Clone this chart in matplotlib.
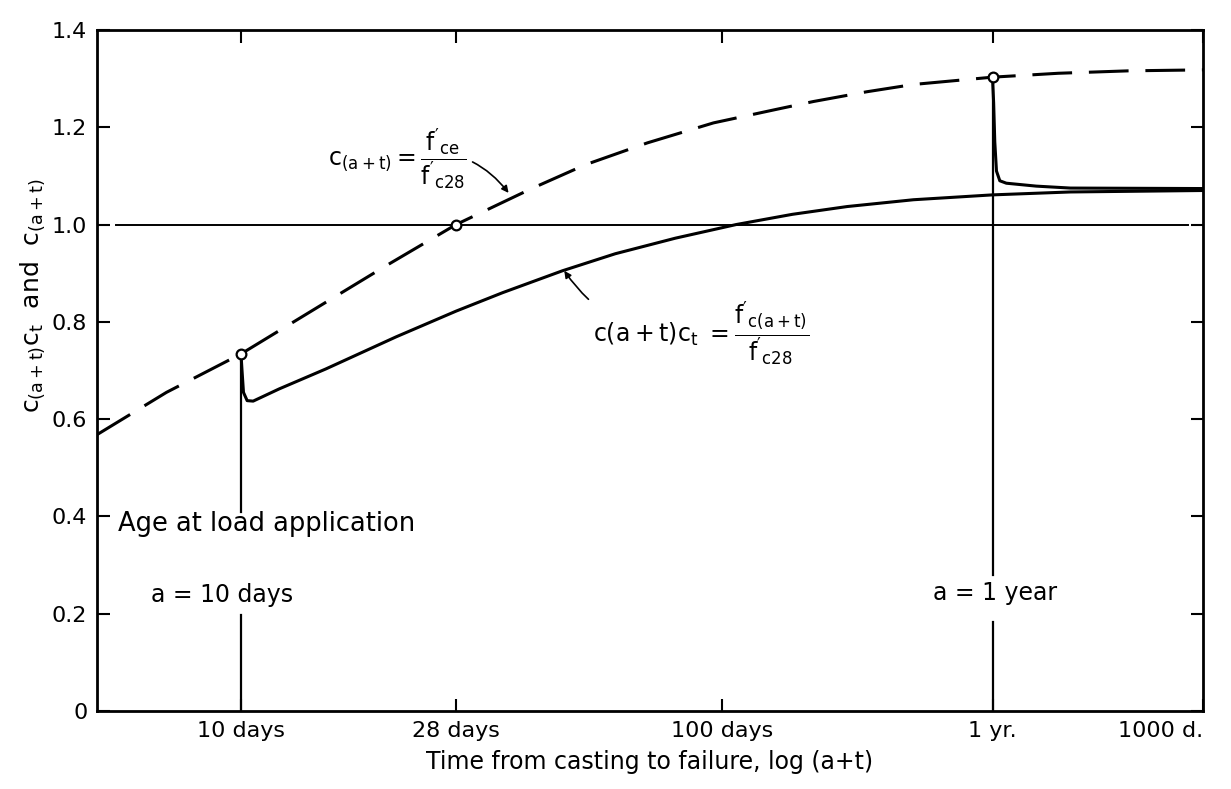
import numpy as np
import matplotlib
matplotlib.use("Agg")
import matplotlib.pyplot as plt

plt.rcParams['font.family'] = ['DejaVu Sans']
plt.rcParams['mathtext.default'] = 'regular'

# strength ratio c(a+t) = f'ce / f'c28 (dashed)
age_days = [5, 7, 10, 15, 20, 28, 40, 52, 70, 96, 130, 155, 200, 250, 365, 500, 700, 1000]
strength_ratio = [0.567, 0.655, 0.734, 0.84, 0.915, 1.0, 1.073, 1.123, 1.168, 1.209,
                  1.237, 1.253, 1.273, 1.288, 1.303, 1.311, 1.316, 1.318]

# sustained-load strength, load applied at 10 days
t_load10 = [10, 10.05, 10.12, 10.3, 10.6, 12, 15, 21, 28, 35, 46.6, 60, 80, 107,
            140, 182, 250, 365, 530, 1000]
c_load10 = [0.734, 0.70, 0.655, 0.638, 0.637, 0.662, 0.703, 0.769, 0.822, 0.86,
            0.905, 0.94, 0.972, 1.0, 1.021, 1.037, 1.051, 1.061, 1.067, 1.07]

# sustained-load strength, load applied at 1 year
t_load365 = [365, 367, 369, 372, 378, 390, 450, 530, 1000]
c_load365 = [1.303, 1.25, 1.17, 1.11, 1.09, 1.085, 1.079, 1.075, 1.074]

load_ages = [10, 28, 365]
load_marks = [0.734, 1.0, 1.303]

xtick_vals = [10, 28, 100, 365, 1000]
xtick_labels = ["10 days", "28 days", "100 days", "1 yr.", "1000 d."]
ytick_vals = [0, 0.2, 0.4, 0.6, 0.8, 1.0, 1.2, 1.4]
ytick_labels = ["0", "0.2", "0.4", "0.6", "0.8", "1.0", "1.2", "1.4"]

fig = plt.figure(figsize=(12.31, 7.89), dpi=100)
ax = fig.add_axes([0.0788, 0.0989, 0.8985, 0.8631])

ax.set_xscale('log')
ax.set_xlim(5.02, 1000)
ax.set_ylim(0, 1.4)

# reference line at 1.0
ax.plot([5.5, 930], [1.0, 1.0], color='black', lw=1.4)

ax.plot(age_days, strength_ratio, color='black', lw=2.2, dashes=(13, 5.5))
ax.plot(t_load10, c_load10, color='black', lw=2.2, solid_joinstyle='round')
ax.plot(t_load365, c_load365, color='black', lw=2.2, solid_joinstyle='round')

# load application lines, broken for the labels
ax.plot([10, 10], [0, 0.197], color='black', lw=1.6)
ax.plot([10, 10], [0.41, 0.734], color='black', lw=1.6)
ax.plot([365, 365], [0, 0.183], color='black', lw=1.6)
ax.plot([365, 365], [0.28, 1.303], color='black', lw=1.6)

ax.plot(load_ages, load_marks, 'o', ms=7, mfc='white', mec='black', mew=1.6, zorder=5)

ax.set_xticks(xtick_vals)
ax.set_xticklabels(xtick_labels)
ax.xaxis.set_minor_locator(matplotlib.ticker.NullLocator())
ax.set_yticks(ytick_vals)
ax.set_yticklabels(ytick_labels)
ax.tick_params(direction='in', length=9, width=1.5, top=True, right=True,
               labelsize=16, pad=7)
ax.get_xticklabels()[-1].set_ha('right')
for s in ax.spines.values():
    s.set_linewidth(2.0)

ax.set_xlabel("Time from casting to failure, log (a+t)", fontsize=17, labelpad=7)
ax.set_ylabel(r"$c_{(a+t)}c_t$  and  $c_{(a+t)}$", fontsize=18)
ax.yaxis.set_label_coords(-0.045, 0.61)

ax.text(5.55, 0.384, "Age at load application", fontsize=18.5, va='center')
ax.text(6.5, 0.238, "a = 10 days", fontsize=17, va='center')
ax.text(275, 0.242, "a = 1 year", fontsize=17, va='center')

ax.annotate(r"$c_{(a+t)} = \dfrac{f'_{ce}}{f'_{c28}}$", xy=(36, 1.065),
            xytext=(15.2, 1.135), fontsize=17, va='center', ha='left',
            arrowprops=dict(arrowstyle='-|>', color='black', lw=1.2,
                            shrinkA=2, shrinkB=0, mutation_scale=10,
                            connectionstyle='arc3,rad=-0.35'))
ax.annotate(r"$c(a+t)c_t\ = \dfrac{f'_{c(a+t)}}{f'_{c28}}$", xy=(47, 0.905),
            xytext=(54, 0.775), fontsize=17, va='center', ha='left',
            arrowprops=dict(arrowstyle='-|>', color='black', lw=1.2,
                            shrinkA=2, shrinkB=0, mutation_scale=10,
                            connectionstyle='arc3,rad=-0.3'))

fig.savefig("out.png", dpi=100)
